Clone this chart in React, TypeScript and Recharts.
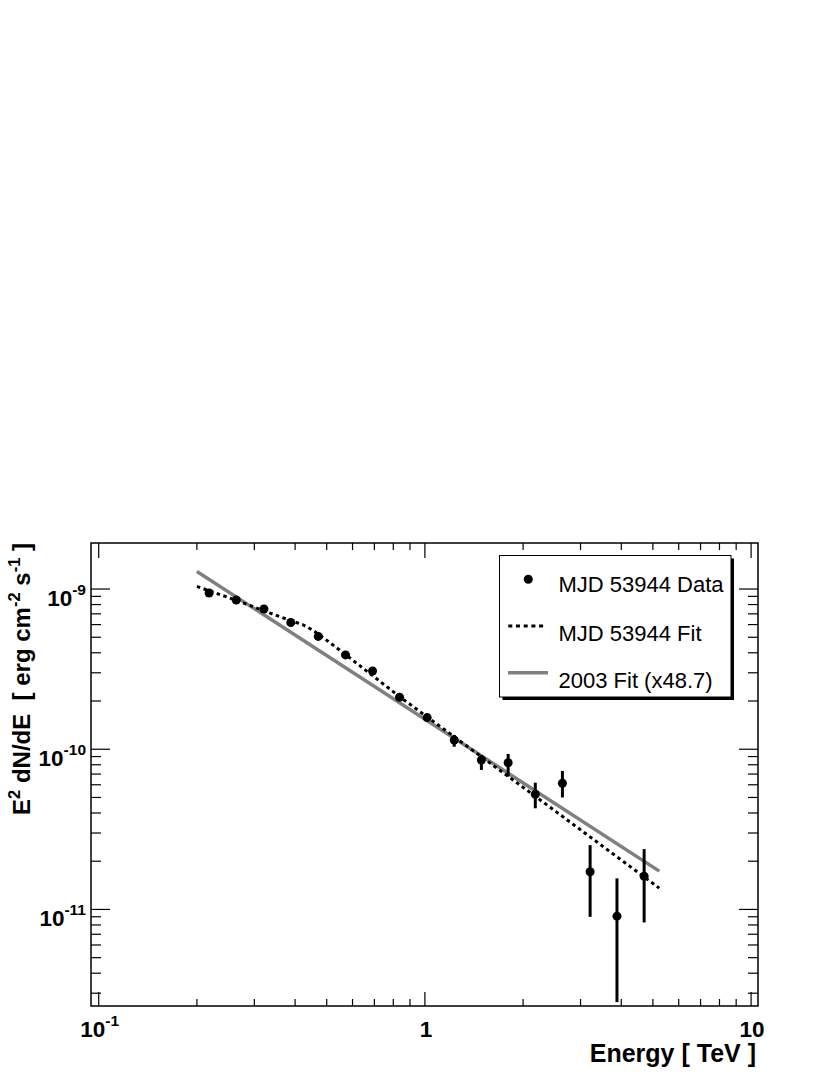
import React from 'react';
import { ComposedChart, XAxis, YAxis, Line, Scatter, ErrorBar, ReferenceArea, Legend } from 'recharts';

// ---- data ----
const ENERGY = [0.218, 0.264, 0.321, 0.388, 0.471, 0.571, 0.691, 0.836, 1.016, 1.23, 1.49, 1.8, 2.18, 2.64, 3.21, 3.88, 4.7];
const FLUX = [9.44e-10, 8.54e-10, 7.5e-10, 6.18e-10, 5.06e-10, 3.88e-10, 3.08e-10, 2.11e-10, 1.576e-10, 1.14e-10, 8.57e-11, 8.24e-11, 5.24e-11, 6.13e-11, 1.72e-11, 9.08e-12, 1.61e-11];
const FLUX_LO = [9.1e-10, 8.25e-10, 7.25e-10, 5.95e-10, 4.87e-10, 3.72e-10, 2.95e-10, 2.01e-10, 1.5e-10, 1.037e-10, 7.43e-11, 6.75e-11, 4.28e-11, 5.0e-11, 8.99e-12, 2.64e-12, 8.3e-12];
const FLUX_HI = [9.8e-10, 8.85e-10, 7.78e-10, 6.42e-10, 5.26e-10, 4.05e-10, 3.22e-10, 2.22e-10, 1.65e-10, 1.228e-10, 9.21e-11, 9.35e-11, 6.18e-11, 7.32e-11, 2.52e-11, 1.563e-11, 2.38e-11];

const FIT_E = [0.2, 0.241, 0.291, 0.335, 0.389, 0.423, 0.455, 0.506, 0.569, 0.836, 2.153, 5.23];
const FIT_F = [1.038e-9, 9.08e-10, 7.9e-10, 7.08e-10, 6.34e-10, 5.98e-10, 5.51e-10, 4.7e-10, 3.92e-10, 2.13e-10, 5.18e-11, 1.358e-11];

const REF_E = [0.2, 5.23];
const REF_F = [1.288e-9, 1.734e-11];

const LEGEND_LABELS = ['MJD 53944 Data', 'MJD 53944 Fit', '2003 Fit (x48.7)'];

const X_DOMAIN = [0.0947, 10.5];
const Y_DOMAIN = [2.496e-12, 1.938e-9];

const X_MAJOR = [0.1, 1, 10];
const X_MAJOR_BASE = ['10', '1', '10'];
const X_MAJOR_EXP = ['-1', '', ''];
const X_MINOR = [0.2, 0.3, 0.4, 0.5, 0.6, 0.7, 0.8, 0.9, 2, 3, 4, 5, 6, 7, 8, 9];

const Y_MAJOR = [1e-11, 1e-10, 1e-9];
const Y_MAJOR_EXP = ['-11', '-10', '-9'];
const Y_MINOR = [
  3e-12, 4e-12, 5e-12, 6e-12, 7e-12, 8e-12, 9e-12,
  2e-11, 3e-11, 4e-11, 5e-11, 6e-11, 7e-11, 8e-11, 9e-11,
  2e-10, 3e-10, 4e-10, 5e-10, 6e-10, 7e-10, 8e-10, 9e-10,
];

// ---- tables built from the arrays ----
const pointData = ENERGY.map((e, i) => ({ e, f: FLUX[i], err: [FLUX[i] - FLUX_LO[i], FLUX_HI[i] - FLUX[i]] }));
const fitData = FIT_E.map((e, i) => ({ e, f: FIT_F[i] }));
const refData = REF_E.map((e, i) => ({ e, f: REF_F[i] }));

// ---- layout ----
const W = 830;
const H = 1075;
const FRAME_LEFT = 91;
const FRAME_TOP = 543;
const FRAME_RIGHT = 758;
const FRAME_BOTTOM = 1006;
const AXIS_H = 30;
const AXIS_W = 40;
const FONT = '"Liberation Sans", Arial, Helvetica, sans-serif';

const findIdx = (arr: number[], v: number) => arr.findIndex((m) => Math.abs(v / m - 1) < 1e-6);

const XTick = (props: any) => {
  const { x, payload } = props;
  const idx = findIdx(X_MAJOR, payload.value);
  const major = idx >= 0;
  const lenB = major ? 14 : 7;
  const lenT = major ? 15 : 7;
  return (
    <g>
      <line x1={x} x2={x} y1={FRAME_BOTTOM} y2={FRAME_BOTTOM - lenB} stroke="#000" strokeWidth={1.2} />
      <line x1={x} x2={x} y1={FRAME_TOP} y2={FRAME_TOP + lenT} stroke="#000" strokeWidth={1.2} />
      {major && (
        <text x={x + 1} y={1037} textAnchor="middle" fontFamily={FONT} fontWeight="bold" fontSize={22.5} fill="#000">
          <tspan>{X_MAJOR_BASE[idx]}</tspan>
          {X_MAJOR_EXP[idx] && <tspan dy={-11} fontSize={15.5}>{X_MAJOR_EXP[idx]}</tspan>}
        </text>
      )}
    </g>
  );
};

const YTick = (props: any) => {
  const { y, payload } = props;
  const idx = findIdx(Y_MAJOR, payload.value);
  const major = idx >= 0;
  const len = major ? 19 : 10;
  return (
    <g>
      <line x1={FRAME_LEFT} x2={FRAME_LEFT + len} y1={y} y2={y} stroke="#000" strokeWidth={1.2} />
      <line x1={FRAME_RIGHT} x2={FRAME_RIGHT - len} y1={y} y2={y} stroke="#000" strokeWidth={1.2} />
      {major && (
        <text x={86} y={y + 17} textAnchor="end" fontFamily={FONT} fontWeight="bold" fontSize={22.5} fill="#000">
          <tspan>10</tspan>
          <tspan dy={-11} fontSize={15.5}>{Y_MAJOR_EXP[idx]}</tspan>
        </text>
      )}
    </g>
  );
};

const XTitle = () => (
  <text x={756} y={1062} textAnchor="end" fontFamily={FONT} fontWeight="bold" fontSize={25} fill="#000">
    Energy [ TeV ]
  </text>
);

const YTitle = () => (
  <text
    x={30}
    y={543}
    transform="rotate(-90, 30, 543)"
    textAnchor="end"
    fontFamily={FONT}
    fontWeight="bold"
    fontSize={24}
    fill="#000"
    style={{ whiteSpace: 'pre' }}
  >
    <tspan>E</tspan>
    <tspan dy={-10} fontSize={16.5}>2</tspan>
    <tspan dy={10}>{' dN/dE  [ erg cm'}</tspan>
    <tspan dy={-10} fontSize={16.5}>-2</tspan>
    <tspan dy={10}>{' s'}</tspan>
    <tspan dy={-10} fontSize={16.5}>-1</tspan>
    <tspan dy={10}>{' ]'}</tspan>
  </text>
);

const LEG_X = 497;
const LEG_Y = 553;

const LegendBox = () => {
  const bx = 499.5 - LEG_X;
  const by = 555.5 - LEG_Y;
  const bw = 231.5;
  const bh = 141.5;
  const textX = 558.5 - LEG_X;
  return (
    <svg width={242} height={152} style={{ display: 'block' }}>
      <rect x={bx + 3} y={by + 3} width={bw} height={bh} fill="#000" />
      <rect x={bx} y={by} width={bw} height={bh} fill="#fff" stroke="#000" strokeWidth={1} />
      <circle cx={528.3 - LEG_X} cy={579.3 - LEG_Y} r={4.5} fill="#000" />
      <text x={textX} y={591.7 - LEG_Y} fontFamily={FONT} fontSize={22} fill="#000">{LEGEND_LABELS[0]}</text>
      <line x1={508.3 - LEG_X} x2={545.5 - LEG_X} y1={626 - LEG_Y} y2={626 - LEG_Y} stroke="#000" strokeWidth={3} strokeDasharray="4 3.7" />
      <text x={textX} y={640.5 - LEG_Y} fontFamily={FONT} fontSize={22} fill="#000">{LEGEND_LABELS[1]}</text>
      <line x1={508 - LEG_X} x2={548 - LEG_X} y1={672.7 - LEG_Y} y2={672.7 - LEG_Y} stroke="#808080" strokeWidth={3.5} />
      <text x={textX} y={687.7 - LEG_Y} fontFamily={FONT} fontSize={22} fill="#000">{LEGEND_LABELS[2]}</text>
    </svg>
  );
};

const Dot = (props: any) => <circle cx={props.cx} cy={props.cy} r={4.5} fill="#000" />;

export default function App() {
  return (
    <div style={{ position: 'absolute', left: 0, top: 0, width: W, height: H, background: '#fff' }}>
      <ComposedChart
        width={W}
        height={H}
        margin={{
          top: FRAME_TOP,
          left: FRAME_LEFT - AXIS_W,
          right: W - FRAME_RIGHT,
          bottom: H - FRAME_BOTTOM - AXIS_H,
        }}
      >
        <XAxis
          dataKey="e"
          type="number"
          scale="log"
          domain={X_DOMAIN}
          allowDataOverflow
          ticks={[...X_MAJOR, ...X_MINOR]}
          interval={0}
          height={AXIS_H}
          axisLine={false}
          tickLine={false}
          tick={XTick}
          label={<XTitle />}
        />
        <YAxis
          type="number"
          scale="log"
          domain={Y_DOMAIN}
          allowDataOverflow
          ticks={[...Y_MAJOR, ...Y_MINOR]}
          interval={0}
          width={AXIS_W}
          axisLine={false}
          tickLine={false}
          tick={YTick}
          label={<YTitle />}
        />
        <ReferenceArea
          x1={X_DOMAIN[0]}
          x2={X_DOMAIN[1]}
          y1={Y_DOMAIN[0]}
          y2={Y_DOMAIN[1]}
          fill="none"
          fillOpacity={0}
          stroke="#000"
          strokeWidth={1.5}
          ifOverflow="visible"
        />
        <Line
          data={refData}
          dataKey="f"
          type="linear"
          stroke="#808080"
          strokeWidth={3.5}
          dot={false}
          activeDot={false}
          isAnimationActive={false}
          name={LEGEND_LABELS[2]}
        />
        <Line
          data={fitData}
          dataKey="f"
          type="linear"
          stroke="#000"
          strokeWidth={3}
          strokeDasharray="3.5 3.5"
          dot={false}
          activeDot={false}
          isAnimationActive={false}
          name={LEGEND_LABELS[1]}
        />
        <Scatter data={pointData} dataKey="f" shape={<Dot />} isAnimationActive={false} name={LEGEND_LABELS[0]}>
          <ErrorBar dataKey="err" direction="y" width={0} stroke="#000" strokeWidth={3} isAnimationActive={false} />
        </Scatter>
        <Legend
          layout="vertical"
          align="center"
          verticalAlign="middle"
          wrapperStyle={{ left: LEG_X, top: LEG_Y, width: 242, height: 152, margin: 0, padding: 0 }}
          content={() => <LegendBox />}
        />
      </ComposedChart>
    </div>
  );
}
